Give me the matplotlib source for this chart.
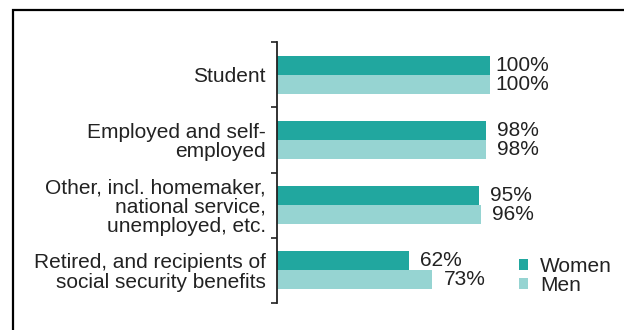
import matplotlib.pyplot as plt
from matplotlib.patches import Rectangle

plt.rcParams["font.family"] = ["Liberation Sans", "DejaVu Sans"]

categories = [
    "Student",
    "Employed and self-\nemployed",
    "Other, incl. homemaker,\nnational service,\nunemployed, etc.",
    "Retired, and recipients of\nsocial security benefits",
]
women = [100, 98, 95, 62]
men = [100, 98, 96, 73]
series_names = ["Women", "Men"]

WOMEN_COLOR = "#21a79f"
MEN_COLOR = "#96d4d2"
TEXT_COLOR = "#222222"
FONT_SIZE = 15

fig = plt.figure(figsize=(6.24, 3.30), dpi=100)
ax = fig.add_axes([277 / 624, 27 / 330, 298 / 624, 261 / 330])

# Frame around the chart (only top and left edges fall inside the image)
fig.patches.append(
    Rectangle((13 / 624, -0.2), 1.2, 1.2 - 10 / 330, transform=fig.transFigure,
              fill=False, edgecolor="black", linewidth=1.6, clip_on=False)
)

bar_h = 0.29
pos = range(len(categories))
women_pos = [p - bar_h / 2 for p in pos]
men_pos = [p + bar_h / 2 for p in pos]
b1 = ax.barh(women_pos, women, height=bar_h, color=WOMEN_COLOR, label=series_names[0])
b2 = ax.barh(men_pos, men, height=bar_h, color=MEN_COLOR, label=series_names[1])

for bars, vals in ((b1, women), (b2, men)):
    for bar, v in zip(bars, vals):
        ax.annotate(f"{v}%", (v, bar.get_y() + bar.get_height() / 2),
                    xytext=(23, 0), textcoords="offset points",
                    ha="center", va="center", fontsize=FONT_SIZE, color=TEXT_COLOR)

ax.set_xlim(0, 140)
ax.set_ylim(3.5, -0.5)

# Ticks at the category boundaries, labels centred on each group
ax.set_yticks([-0.5, 0.5, 1.5, 2.5, 3.5])
ax.set_yticklabels([])
ax.set_yticks(list(pos), minor=True)
ax.set_yticklabels(categories, minor=True, fontsize=FONT_SIZE, color=TEXT_COLOR,
                   linespacing=1.03)
ax.tick_params(axis="y", which="major", length=4, width=1.2, color=TEXT_COLOR, direction="out")
ax.tick_params(axis="y", which="minor", length=0, pad=8)
ax.set_xticks([])

for side in ("top", "right", "bottom"):
    ax.spines[side].set_visible(False)
ax.spines["left"].set_color(TEXT_COLOR)
ax.spines["left"].set_linewidth(1.3)

leg = fig.legend(loc="center left", bbox_to_anchor=(519 / 624, 1 - 276 / 330),
                 frameon=False, fontsize=FONT_SIZE, handlelength=0.45, handleheight=0.45,
                 handletextpad=0.55, labelspacing=-0.02, borderpad=0, borderaxespad=0)
for t in leg.get_texts():
    t.set_color(TEXT_COLOR)

fig.savefig("out.png", dpi=100)
